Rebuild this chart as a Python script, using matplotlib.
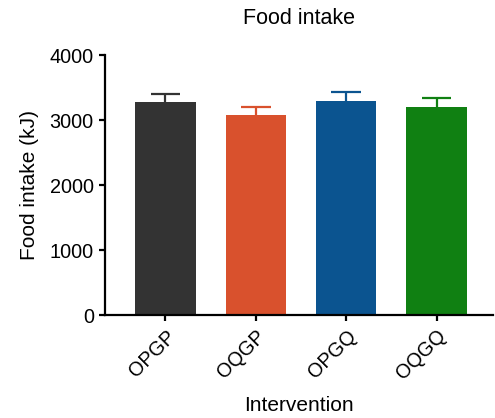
import numpy as np
import matplotlib
matplotlib.use('Agg')
import matplotlib.pyplot as plt

plt.rcParams['font.family'] = ['Liberation Sans', 'DejaVu Sans']

# data
groups = ['OPGP', 'OQGP', 'OPGQ', 'OQGQ']
intake = np.array([3277, 3073, 3293, 3201])
sem = np.array([128, 133, 134, 143])
colors = ['#333333', '#d9512d', '#0b5490', '#108012']

fig = plt.figure(figsize=(4.95, 4.18), dpi=100)
ax = fig.add_axes([0.212, 0.2457, 0.783, 0.6227])

x = np.arange(len(groups))
# upward-only error bars, drawn behind the bars
ax.vlines(x, intake, intake + sem, colors=colors, linewidth=1.6, zorder=1)
ax.hlines(intake + sem, x - 0.165, x + 0.165, colors=colors, linewidth=1.6, zorder=1)
ax.bar(x, intake, width=0.67, color=colors, zorder=2)

ax.set_xlim(-0.67, 3.62)
ax.set_ylim(0, 4000)
ax.set_yticks([0, 1000, 2000, 3000, 4000])
ax.set_xticks(x)
ax.set_xticklabels(groups, rotation=45, ha='right', rotation_mode='anchor')

for s in ['top', 'right']:
    ax.spines[s].set_visible(False)
for s in ['left', 'bottom']:
    ax.spines[s].set_linewidth(1.6)
ax.tick_params(width=1.6, length=4, pad=4, labelsize=14.3)

ax.set_ylabel('Food intake (kJ)', fontsize=15, labelpad=8)
ax.set_xlabel('Intervention', fontsize=15, labelpad=9)
ax.set_title('Food intake', fontsize=15.5, pad=22)

plt.savefig('out.png', dpi=100)
